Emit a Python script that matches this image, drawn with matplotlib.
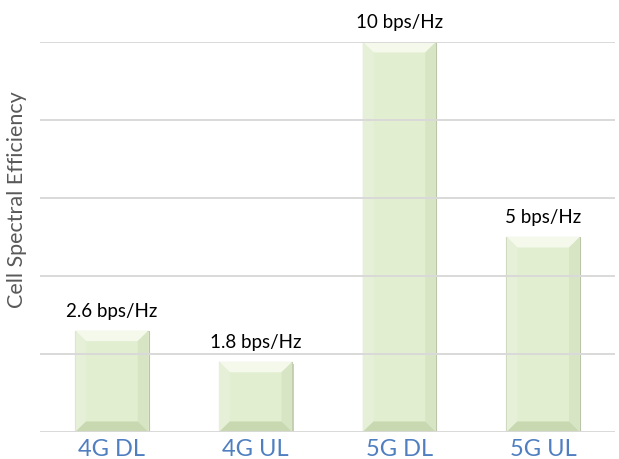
import matplotlib
matplotlib.use("Agg")
import matplotlib.pyplot as plt
from matplotlib.patches import Polygon, Rectangle

categories = ["4G DL", "4G UL", "5G DL", "5G UL"]
values = [2.6, 1.8, 10, 5]
labels = ["2.6 bps/Hz", "1.8 bps/Hz", "10 bps/Hz", "5 bps/Hz"]

plt.rcParams['font.family'] = ['Lato', 'DejaVu Sans']

fig = plt.figure(figsize=(6.19, 4.6), dpi=100)
ax = fig.add_axes([0.0646, 0.0587, 0.929, 0.848])
ax.set_xlim(-0.5, 3.5)
ax.set_ylim(0, 10)

w = 0.51
bx = 0.075   # bevel in x (data units)
by = 0.27    # bevel in y (data units)
for i, v in enumerate(values):
    x0, x1 = i - w/2, i + w/2
    # shadow outline
    ax.add_patch(Rectangle((x0 + 0.01, -0.05), w, v, facecolor='#9a9a9a',
                           edgecolor='none', alpha=0.5, zorder=1))
    ax.add_patch(Rectangle((x0, 0), w, v, facecolor='#e2eed0',
                           edgecolor='#b9c5a8', linewidth=0.8, zorder=2))
    # bevels
    top = [(x0, v), (x1, v), (x1 - bx, v - by), (x0 + bx, v - by)]
    bot = [(x0, 0), (x1, 0), (x1 - bx, by), (x0 + bx, by)]
    left = [(x0, 0), (x0, v), (x0 + bx, v - by), (x0 + bx, by)]
    right = [(x1, 0), (x1, v), (x1 - bx, v - by), (x1 - bx, by)]
    ax.add_patch(Polygon(top, closed=True, facecolor='#f4f9ec', edgecolor='none', zorder=3))
    ax.add_patch(Polygon(left, closed=True, facecolor='#e6f0d8', edgecolor='none', zorder=3))
    ax.add_patch(Polygon(right, closed=True, facecolor='#d8e5c4', edgecolor='none', zorder=3))
    ax.add_patch(Polygon(bot, closed=True, facecolor='#c8d8b0', edgecolor='none', zorder=3))
    ax.text(i, v + 0.3, labels[i], ha='center', va='bottom', fontsize=13.5,
            color='black', zorder=5)

for g in range(0, 11, 2):
    ax.axhline(g, color='#d9d9d9', linewidth=1.4, zorder=4)

ax.set_xticks(range(len(categories)))
ax.set_xticklabels(categories, fontsize=17, color='#4f7fc0')
ax.tick_params(axis='x', length=0, pad=4)
ax.set_yticks([])
for s in ax.spines.values():
    s.set_visible(False)

fig.text(0.027, 0.565, "Cell Spectral Efficiency", rotation=90, ha='center',
         va='center', fontsize=15.5, color='#595959')

fig.savefig("out.png", dpi=100)
